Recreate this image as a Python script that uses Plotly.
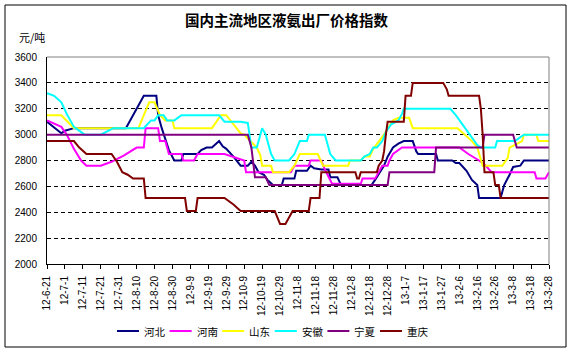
import datetime as dt
import pandas as pd
import plotly.graph_objects as go

START = "2012-06-21"
END = "2013-03-28"

tick_labels = ["12-6-21", "12-7-1", "12-7-11", "12-7-21", "12-7-31", "12-8-10", "12-8-20",
               "12-8-30", "12-9-9", "12-9-19", "12-9-29", "12-10-9", "12-10-19", "12-10-29",
               "12-11-8", "12-11-18", "12-11-28", "12-12-8", "12-12-18", "12-12-28", "13-1-7",
               "13-1-17", "13-1-27", "13-2-6", "13-2-16", "13-2-26", "13-3-8", "13-3-18", "13-3-28"]

series_names = ["河北", "河南", "山东", "安徽", "宁夏", "重庆"]

# day offsets from START and prices (元/吨)
hebei_day = [0, 8, 10, 15, 44, 54, 61, 62, 64, 66, 68, 71, 75, 76, 84, 86, 89, 92, 96, 98,
             100, 104, 108, 112, 114, 116, 118, 121, 123, 126, 131, 132, 138, 139, 145, 147, 149, 153, 157, 158,
             162, 164, 181, 183, 185, 188, 190, 193, 196, 199, 204, 206, 207, 217, 218, 226, 228, 230, 234, 237,
             240, 241, 253, 255, 258, 260, 264, 266, 280]
hebei_val = [3100, 3010, 3030, 3050, 3050, 3300, 3300, 3150, 3050, 2970, 2880, 2800, 2800, 2850, 2850, 2880, 2900, 2900, 2950, 2910,
             2890, 2830, 2760, 2760, 2790, 2760, 2710, 2690, 2650, 2610, 2610, 2660, 2660, 2720, 2720, 2760, 2740, 2730, 2730, 2670,
             2670, 2610, 2610, 2650, 2690, 2760, 2830, 2900, 2930, 2950, 2950, 2870, 2850, 2850, 2800, 2800, 2780, 2780, 2720, 2650,
             2610, 2510, 2510, 2610, 2690, 2750, 2760, 2800, 2800]

henan_day = [0, 8, 11, 15, 19, 22, 30, 36, 43, 50, 54, 55, 62, 63, 66, 68, 75, 76, 82, 84,
             99, 104, 110, 111, 136, 138, 146, 147, 153, 155, 157, 159, 175, 176, 183, 185, 187, 190, 191, 193,
             196, 198, 230, 235, 241, 244, 248, 272, 273, 278, 280]
henan_val = [3110, 3060, 3000, 2890, 2800, 2760, 2760, 2790, 2840, 2900, 2900, 3050, 3050, 2950, 2950, 2850, 2850, 2800, 2800, 2850,
             2850, 2830, 2800, 2710, 2710, 2760, 2760, 2800, 2800, 2730, 2680, 2620, 2620, 2660, 2660, 2710, 2760, 2760, 2800, 2850,
             2880, 2900, 2900, 2850, 2800, 2770, 2710, 2710, 2660, 2660, 2710]

shandong_day = [0, 8, 15, 51, 54, 57, 60, 63, 66, 70, 71, 92, 97, 100, 108, 110, 112, 117, 119, 120,
                125, 126, 135, 138, 141, 151, 154, 168, 169, 175, 177, 180, 182, 188, 193, 196, 202, 204, 229, 233,
                237, 240, 242, 243, 254, 257, 258, 261, 265, 266, 273, 274, 280]
shandong_val = [3150, 3150, 3050, 3050, 3150, 3250, 3250, 3150, 3110, 3110, 3050, 3050, 3150, 3150, 3010, 3000, 2970, 2900, 2840, 2760,
                2760, 2710, 2710, 2760, 2850, 2850, 2760, 2760, 2800, 2800, 2830, 2830, 2890, 3000, 3110, 3130, 3130, 3050, 3050, 3000,
                2950, 2900, 2800, 2760, 2760, 2820, 2900, 2920, 2950, 3000, 3000, 2950, 2950]

anhui_day = [0, 4, 8, 11, 15, 19, 21, 30, 37, 54, 58, 60, 62, 65, 67, 71, 75, 96, 99, 108,
             112, 114, 117, 120, 122, 125, 127, 135, 138, 141, 145, 146, 155, 158, 161, 175, 177, 180, 182, 184,
             187, 189, 192, 196, 198, 199, 225, 228, 230, 233, 237, 240, 242, 250, 251, 261, 266, 280]
anhui_val = [3320, 3300, 3250, 3160, 3060, 3020, 3000, 3000, 3050, 3050, 3110, 3110, 3150, 3150, 3110, 3110, 3150, 3150, 3100, 3100,
             3090, 2900, 2900, 3050, 3000, 2850, 2800, 2800, 2850, 2950, 2950, 3000, 3000, 2850, 2800, 2800, 2830, 2850, 2900, 2900,
             2950, 3020, 3080, 3110, 3160, 3200, 3200, 3150, 3110, 3050, 2980, 2920, 2900, 2900, 2950, 2950, 3000, 3000]

ningxia_day = [0, 112, 114, 115, 116, 122, 124, 190, 191, 216, 217, 243, 244, 260, 262, 280]
ningxia_val = [3000, 3000, 2900, 2780, 2670, 2670, 2610, 2610, 2710, 2710, 2900, 2900, 3000, 3000, 2900, 2900]

chongqing_day = [0, 15, 18, 22, 36, 39, 42, 45, 48, 54, 55, 77, 78, 83, 84, 99, 104, 108, 127, 130,
                 133, 137, 146, 147, 152, 153, 172, 173, 174, 175, 184, 185, 187, 188, 189, 190, 199, 200, 203, 204,
                 221, 223, 224, 241, 242, 243, 244, 249, 250, 252, 253, 280]
chongqing_val = [2950, 2950, 2900, 2850, 2850, 2790, 2710, 2690, 2660, 2660, 2510, 2510, 2410, 2410, 2510, 2510, 2460, 2410, 2410, 2310,
                 2310, 2410, 2410, 2510, 2510, 2710, 2710, 2660, 2660, 2710, 2710, 2760, 2800, 2870, 3000, 3100, 3100, 3300, 3300, 3400,
                 3400, 3350, 3300, 3300, 3200, 3000, 2710, 2710, 2610, 2610, 2510, 2510]

colors = ["#000080", "#FF00FF", "#FFFF00", "#00FFFF", "#800080", "#800000"]

all_days = [hebei_day, henan_day, shandong_day, anhui_day, ningxia_day, chongqing_day]
all_vals = [hebei_val, henan_val, shandong_val, anhui_val, ningxia_val, chongqing_val]

start = pd.Timestamp(START)
tick_dates = [dt.datetime.strptime("20" + s, "%Y-%m-%d") for s in tick_labels]

NUM_FONT = "Liberation Sans, Arial, sans-serif"
CJK_FONT = "Noto Sans CJK SC, sans-serif"

L, R, T, B = 47, 24, 57, 89
W, H = 573, 353
pw, ph = W - L - R, H - T - B

def px(xp):
    return (xp - L) / pw

def py(yp):
    return (H - B - yp) / ph

fig = go.Figure()
for name, days, vals, col in zip(series_names, all_days, all_vals, colors):
    x = start + pd.to_timedelta(days, unit="D")
    fig.add_trace(go.Scatter(x=x, y=vals, mode="lines", name=name, showlegend=False,
                             line=dict(color=col, width=2)))

# legend drawn as key lines + labels (Excel-style compact legend)
LEG_X0, LEG_PITCH, LEG_LINE, LEG_Y = 117, 52.6, 22, 331
shapes = [
    dict(type="line", xref="paper", yref="paper", x0=0, x1=1, y0=1, y1=1,
         line=dict(color="#808080", width=1), layer="above"),
    dict(type="line", xref="paper", yref="paper", x0=1, x1=1, y0=0, y1=1,
         line=dict(color="#808080", width=1), layer="above"),
    dict(type="rect", xref="paper", yref="paper", x0=px(5), x1=px(566), y0=py(347), y1=py(5),
         line=dict(color="black", width=1)),
]
annotations = [dict(text="元/吨", x=px(32), y=py(37), xref="paper", yref="paper",
                    xanchor="center", yanchor="middle", showarrow=False,
                    font=dict(family=CJK_FONT, size=11, color="black"))]
for i, (name, col) in enumerate(zip(series_names, colors)):
    x0 = LEG_X0 + LEG_PITCH * i
    shapes.append(dict(type="line", xref="paper", yref="paper",
                       x0=px(x0), x1=px(x0 + LEG_LINE), y0=py(LEG_Y), y1=py(LEG_Y),
                       line=dict(color=col, width=2)))
    annotations.append(dict(text=name, x=px(x0 + LEG_LINE + 3), y=py(LEG_Y),
                            xref="paper", yref="paper", xanchor="left", yanchor="middle",
                            showarrow=False,
                            font=dict(family=CJK_FONT, size=10.5, color="black")))

fig.update_layout(
    width=W, height=H,
    margin=dict(l=L, r=R, t=T, b=B),
    paper_bgcolor="white", plot_bgcolor="white",
    showlegend=False,
    title=dict(text="<b>国内主流地区液氨出厂价格指数</b>", x=0.5, xanchor="center",
               y=1 - 21 / H, yanchor="middle", yref="container",
               font=dict(family=CJK_FONT, size=14.5, color="black")),
    xaxis=dict(type="date", range=[START, END], tickvals=tick_dates, ticktext=tick_labels,
               tickangle=-90, ticks="outside", ticklen=4, tickcolor="black",
               showline=True, linecolor="black", linewidth=1, showgrid=False,
               zeroline=False, ticklabelstandoff=3,
               tickfont=dict(family=NUM_FONT, size=10, color="black")),
    yaxis=dict(range=[2000, 3600], tick0=2000, dtick=200, showgrid=True,
               gridcolor="black", griddash="4px,3px", gridwidth=1,
               showline=True, linecolor="black", linewidth=1, zeroline=False,
               ticks="", ticklabelstandoff=7,
               tickfont=dict(family=NUM_FONT, size=10, color="black")),
    annotations=annotations,
    shapes=shapes,
)

fig.write_html("out.html")
